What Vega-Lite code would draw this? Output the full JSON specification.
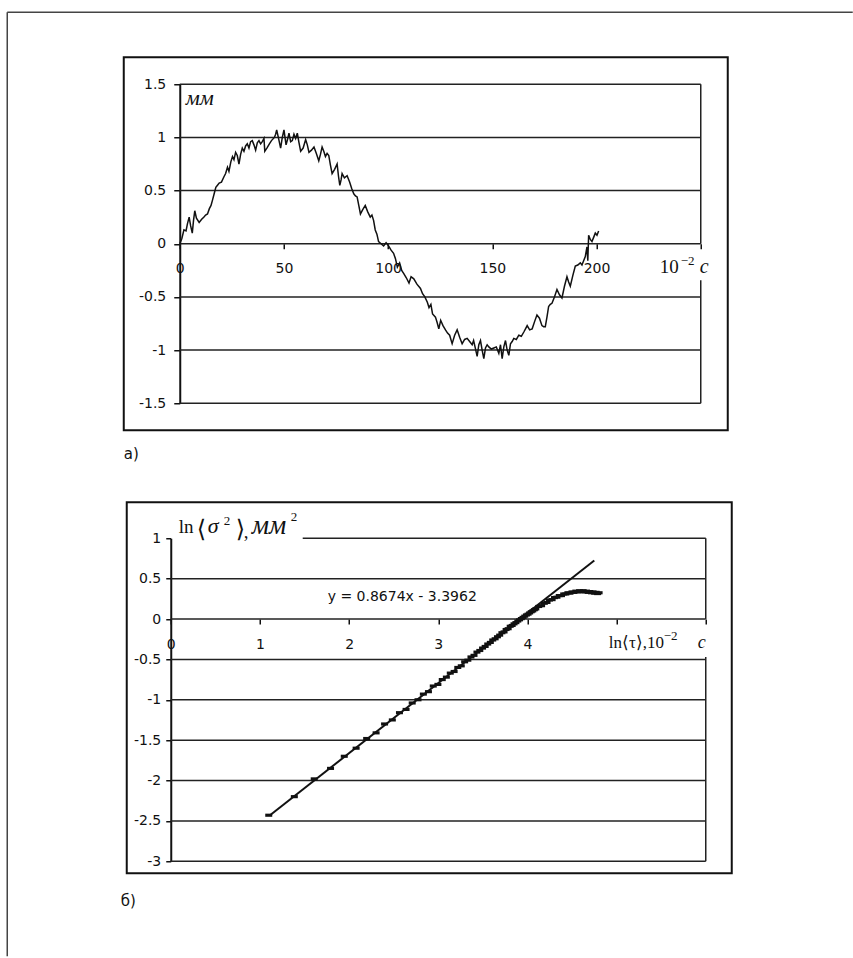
{
  "$schema": "https://vega.github.io/schema/vega-lite/v6.json",
  "padding": {"left": 5.75, "top": 11.25, "right": 0, "bottom": 0},
  "background": "white",
  "bounds": "flush",
  "spacing": 135,
  "config": {
    "view": {"stroke": null},
    "axis": {"labelFont": "DejaVu Sans", "labelFontSize": 14, "labelColor": "#111", "tickColor": "#111", "domainColor": "#111", "labelFlush": false, "labelOverlap": false, "grid": false, "title": null}
  },
  "datasets": {
    "frame": [
      {"x1": -82.79, "x2": 322.94, "y1": 2.1771, "y2": 2.1771},
      {"x1": -82.79, "x2": -82.79, "y1": 2.1771, "y2": -6.7006}
    ],
    "boxA": [{"x1": -26.88, "x2": 262.96, "y1": 1.7539, "y2": -1.7539}],
    "gridA": [
      {"x1": 0, "x2": 250, "y": 1.5},
      {"x1": 0, "x2": 250, "y": 1},
      {"x1": 0, "x2": 250, "y": 0.5},
      {"x1": 0, "x2": 250, "y": 0},
      {"x1": 0, "x2": 250, "y": -0.5},
      {"x1": 0, "x2": 250, "y": -1},
      {"x1": 0, "x2": 250, "y": -1.5}
    ],
    "borderA": [
      {"x": 250, "y1": 0, "y2": 1.5},
      {"x": 250, "y1": -1.5, "y2": -0.343}
    ],
    "sine": [
      {"t": 0, "v": 0.0}, {"t": 1, "v": 0.05}, {"t": 2, "v": 0.13}, {"t": 3, "v": 0.12}, {"t": 3.7, "v": 0.19},
      {"t": 4.5, "v": 0.25}, {"t": 5.2, "v": 0.17}, {"t": 6, "v": 0.1}, {"t": 6.6, "v": 0.22}, {"t": 7.2, "v": 0.31},
      {"t": 8, "v": 0.24}, {"t": 9.3, "v": 0.2}, {"t": 10.5, "v": 0.23}, {"t": 11.5, "v": 0.25}, {"t": 12.4, "v": 0.27},
      {"t": 13.3, "v": 0.28}, {"t": 14.2, "v": 0.33}, {"t": 15, "v": 0.36}, {"t": 15.7, "v": 0.41}, {"t": 16.5, "v": 0.47},
      {"t": 17.3, "v": 0.53}, {"t": 18.1, "v": 0.55}, {"t": 18.9, "v": 0.57}, {"t": 20, "v": 0.58}, {"t": 21.2, "v": 0.63},
      {"t": 22, "v": 0.66}, {"t": 22.9, "v": 0.72}, {"t": 23.6, "v": 0.68}, {"t": 24.5, "v": 0.77}, {"t": 25.3, "v": 0.82},
      {"t": 26, "v": 0.79}, {"t": 26.8, "v": 0.86}, {"t": 27.6, "v": 0.83}, {"t": 28.4, "v": 0.75}, {"t": 29.2, "v": 0.84},
      {"t": 30, "v": 0.9}, {"t": 30.8, "v": 0.87}, {"t": 31.6, "v": 0.92}, {"t": 32.4, "v": 0.94}, {"t": 33.2, "v": 0.9},
      {"t": 34, "v": 0.96}, {"t": 34.8, "v": 0.97}, {"t": 35.6, "v": 0.93}, {"t": 36.4, "v": 0.88}, {"t": 37.2, "v": 0.95},
      {"t": 38, "v": 0.97}, {"t": 38.8, "v": 0.94}, {"t": 39.6, "v": 0.96}, {"t": 40.4, "v": 0.99}, {"t": 40.8, "v": 0.87},
      {"t": 41.8, "v": 0.9}, {"t": 43, "v": 0.94}, {"t": 44, "v": 0.97}, {"t": 45.4, "v": 1.0}, {"t": 46, "v": 1.03},
      {"t": 46.5, "v": 1.07}, {"t": 47.3, "v": 1.0}, {"t": 48.4, "v": 0.9}, {"t": 49.2, "v": 1.0}, {"t": 50, "v": 1.07},
      {"t": 51, "v": 0.93}, {"t": 51.7, "v": 0.98}, {"t": 52.4, "v": 1.04}, {"t": 53.2, "v": 0.96}, {"t": 54, "v": 0.97},
      {"t": 54.8, "v": 1.03}, {"t": 55.6, "v": 0.99}, {"t": 56.4, "v": 1.04}, {"t": 57.2, "v": 0.95}, {"t": 58, "v": 0.87},
      {"t": 59.2, "v": 0.9}, {"t": 60.4, "v": 0.98}, {"t": 61.2, "v": 0.93}, {"t": 62, "v": 0.86}, {"t": 63.2, "v": 0.88},
      {"t": 64.4, "v": 0.91}, {"t": 65.5, "v": 0.85}, {"t": 66.7, "v": 0.78}, {"t": 67.5, "v": 0.84}, {"t": 68.3, "v": 0.91},
      {"t": 69.1, "v": 0.87}, {"t": 69.9, "v": 0.82}, {"t": 70.7, "v": 0.85}, {"t": 71.5, "v": 0.83}, {"t": 72.3, "v": 0.74},
      {"t": 73.1, "v": 0.66}, {"t": 74.3, "v": 0.7}, {"t": 75.5, "v": 0.75}, {"t": 76.2, "v": 0.63}, {"t": 76.8, "v": 0.55},
      {"t": 77.4, "v": 0.6}, {"t": 77.9, "v": 0.66}, {"t": 79, "v": 0.62}, {"t": 80.3, "v": 0.64}, {"t": 81.5, "v": 0.58},
      {"t": 82.5, "v": 0.52}, {"t": 83.5, "v": 0.47}, {"t": 84.3, "v": 0.45}, {"t": 85.1, "v": 0.44}, {"t": 85.9, "v": 0.36},
      {"t": 86.7, "v": 0.28}, {"t": 87.8, "v": 0.32}, {"t": 89, "v": 0.36}, {"t": 90.2, "v": 0.3}, {"t": 91.4, "v": 0.25},
      {"t": 92.2, "v": 0.27}, {"t": 93, "v": 0.22}, {"t": 93.8, "v": 0.13}, {"t": 94.6, "v": 0.09}, {"t": 95.4, "v": 0.02},
      {"t": 96.6, "v": 0.0}, {"t": 97.8, "v": -0.02}, {"t": 99, "v": 0.01}, {"t": 100.2, "v": -0.02}, {"t": 101.4, "v": -0.06},
      {"t": 102.6, "v": -0.09}, {"t": 103.5, "v": -0.14}, {"t": 104.4, "v": -0.22}, {"t": 105.5, "v": -0.18}, {"t": 106.5, "v": -0.25},
      {"t": 107.5, "v": -0.28}, {"t": 108.7, "v": -0.32}, {"t": 110, "v": -0.37}, {"t": 111, "v": -0.31}, {"t": 112.3, "v": -0.33},
      {"t": 113.8, "v": -0.38}, {"t": 115.5, "v": -0.42}, {"t": 116.5, "v": -0.47}, {"t": 117.6, "v": -0.5}, {"t": 118.8, "v": -0.55},
      {"t": 119.6, "v": -0.6}, {"t": 120.5, "v": -0.57}, {"t": 121.3, "v": -0.66}, {"t": 122.7, "v": -0.69}, {"t": 123.5, "v": -0.74},
      {"t": 124.3, "v": -0.8}, {"t": 125.2, "v": -0.72}, {"t": 126.3, "v": -0.77}, {"t": 127.5, "v": -0.81}, {"t": 128.5, "v": -0.84},
      {"t": 129.5, "v": -0.86}, {"t": 130.7, "v": -0.94}, {"t": 131.9, "v": -0.86}, {"t": 133.1, "v": -0.81}, {"t": 134.3, "v": -0.88},
      {"t": 135.5, "v": -0.94}, {"t": 136.7, "v": -0.9}, {"t": 137.9, "v": -0.89}, {"t": 139.1, "v": -0.92}, {"t": 140.3, "v": -0.95},
      {"t": 141, "v": -0.91}, {"t": 141.8, "v": -0.98}, {"t": 142.7, "v": -1.06}, {"t": 143.5, "v": -0.95}, {"t": 144.3, "v": -0.91},
      {"t": 145.1, "v": -1.0}, {"t": 145.9, "v": -1.08}, {"t": 146.7, "v": -0.98}, {"t": 147.5, "v": -0.95}, {"t": 148.3, "v": -0.97},
      {"t": 149.5, "v": -0.99}, {"t": 150.7, "v": -0.98}, {"t": 151.9, "v": -0.97}, {"t": 153.1, "v": -1.03}, {"t": 153.9, "v": -0.95},
      {"t": 154.7, "v": -1.08}, {"t": 155.5, "v": -0.97}, {"t": 156.3, "v": -0.91}, {"t": 157.1, "v": -1.0}, {"t": 157.9, "v": -1.05},
      {"t": 158.7, "v": -0.94}, {"t": 159.5, "v": -0.92}, {"t": 160.3, "v": -0.89}, {"t": 161.5, "v": -0.9}, {"t": 162.7, "v": -0.86},
      {"t": 163.9, "v": -0.87}, {"t": 165.1, "v": -0.83}, {"t": 165.9, "v": -0.8}, {"t": 166.7, "v": -0.77}, {"t": 167.9, "v": -0.81},
      {"t": 169.1, "v": -0.8}, {"t": 170.3, "v": -0.73}, {"t": 171.4, "v": -0.67}, {"t": 172.6, "v": -0.7}, {"t": 173.8, "v": -0.77},
      {"t": 174.6, "v": -0.78}, {"t": 175.4, "v": -0.78}, {"t": 176.2, "v": -0.69}, {"t": 177, "v": -0.59}, {"t": 177.8, "v": -0.57},
      {"t": 178.6, "v": -0.56}, {"t": 179.8, "v": -0.5}, {"t": 181, "v": -0.43}, {"t": 182.2, "v": -0.48}, {"t": 183.4, "v": -0.51},
      {"t": 184.6, "v": -0.4}, {"t": 185.8, "v": -0.31}, {"t": 186.6, "v": -0.36}, {"t": 187.4, "v": -0.4}, {"t": 188.6, "v": -0.3},
      {"t": 189.8, "v": -0.21}, {"t": 191, "v": -0.2}, {"t": 192.2, "v": -0.18}, {"t": 193, "v": -0.2}, {"t": 193.8, "v": -0.16},
      {"t": 194.6, "v": -0.12}, {"t": 195.4, "v": -0.03}, {"t": 195.8, "v": -0.16}, {"t": 196.2, "v": 0.08}, {"t": 197, "v": 0.04},
      {"t": 197.8, "v": 0.02}, {"t": 198.6, "v": 0.06}, {"t": 199.4, "v": 0.1}, {"t": 200.2, "v": 0.08}, {"t": 201, "v": 0.12}
    ],
    "txtA_sans": [{"x": -26.88, "y": -2.0266, "s": "а)"}],
    "txtA_ital": [{"x": 2.87, "y": 1.3025, "s": "мм"}],
    "txtA_c": [{"x": 249.53, "y": -0.2727, "s": "c"}],
    "txtA_serif": [{"x": 230.33, "y": -0.2727, "s": "10"}],
    "txtA_sup": [{"x": 240.4, "y": -0.2022, "s": "−2"}],
    "boxB": [{"x1": -0.4935, "x2": 6.2916, "y1": 1.4458, "y2": -3.1486}],
    "gridB": [
      {"x1": 1.48, "x2": 6, "y": 1},
      {"x1": 0, "x2": 6, "y": 0.5},
      {"x1": 0, "x2": 6, "y": 0},
      {"x1": 0, "x2": 6, "y": -0.5},
      {"x1": 0, "x2": 6, "y": -1},
      {"x1": 0, "x2": 6, "y": -1.5},
      {"x1": 0, "x2": 6, "y": -2},
      {"x1": 0, "x2": 6, "y": -2.5},
      {"x1": 0, "x2": 6, "y": -3}
    ],
    "borderB": [
      {"x": 6, "y1": 0, "y2": 1},
      {"x": 6, "y1": -3, "y2": -0.47}
    ],
    "sig": [
      {"lt": 1.099, "ls": -2.43}, {"lt": 1.386, "ls": -2.2}, {"lt": 1.609, "ls": -1.98}, {"lt": 1.792, "ls": -1.85},
      {"lt": 1.946, "ls": -1.7}, {"lt": 2.079, "ls": -1.6}, {"lt": 2.197, "ls": -1.48}, {"lt": 2.303, "ls": -1.41},
      {"lt": 2.398, "ls": -1.3}, {"lt": 2.485, "ls": -1.25}, {"lt": 2.565, "ls": -1.16}, {"lt": 2.639, "ls": -1.12},
      {"lt": 2.708, "ls": -1.04}, {"lt": 2.773, "ls": -1.0}, {"lt": 2.833, "ls": -0.93}, {"lt": 2.89, "ls": -0.9},
      {"lt": 2.944, "ls": -0.83}, {"lt": 2.996, "ls": -0.81}, {"lt": 3.045, "ls": -0.75}, {"lt": 3.091, "ls": -0.72},
      {"lt": 3.135, "ls": -0.67}, {"lt": 3.178, "ls": -0.65}, {"lt": 3.219, "ls": -0.6}, {"lt": 3.258, "ls": -0.58},
      {"lt": 3.296, "ls": -0.53}, {"lt": 3.332, "ls": -0.51}, {"lt": 3.367, "ls": -0.47}, {"lt": 3.401, "ls": -0.45},
      {"lt": 3.434, "ls": -0.41}, {"lt": 3.466, "ls": -0.39}, {"lt": 3.497, "ls": -0.36}, {"lt": 3.526, "ls": -0.34},
      {"lt": 3.555, "ls": -0.31}, {"lt": 3.584, "ls": -0.29}, {"lt": 3.611, "ls": -0.26}, {"lt": 3.638, "ls": -0.245},
      {"lt": 3.664, "ls": -0.22}, {"lt": 3.689, "ls": -0.2}, {"lt": 3.714, "ls": -0.17}, {"lt": 3.738, "ls": -0.16},
      {"lt": 3.761, "ls": -0.13}, {"lt": 3.784, "ls": -0.12}, {"lt": 3.807, "ls": -0.09}, {"lt": 3.829, "ls": -0.08},
      {"lt": 3.85, "ls": -0.06}, {"lt": 3.871, "ls": -0.045}, {"lt": 3.892, "ls": -0.025}, {"lt": 3.912, "ls": -0.01},
      {"lt": 3.932, "ls": 0.005}, {"lt": 3.951, "ls": 0.02}, {"lt": 3.97, "ls": 0.035}, {"lt": 3.989, "ls": 0.05},
      {"lt": 4.007, "ls": 0.06}, {"lt": 4.025, "ls": 0.075}, {"lt": 4.043, "ls": 0.09}, {"lt": 4.06, "ls": 0.1},
      {"lt": 4.078, "ls": 0.115}, {"lt": 4.094, "ls": 0.125}, {"lt": 4.127, "ls": 0.155}, {"lt": 4.159, "ls": 0.165},
      {"lt": 4.19, "ls": 0.195}, {"lt": 4.22, "ls": 0.205}, {"lt": 4.248, "ls": 0.235}, {"lt": 4.277, "ls": 0.24},
      {"lt": 4.304, "ls": 0.265}, {"lt": 4.331, "ls": 0.27}, {"lt": 4.357, "ls": 0.29}, {"lt": 4.382, "ls": 0.29},
      {"lt": 4.407, "ls": 0.31}, {"lt": 4.431, "ls": 0.31}, {"lt": 4.454, "ls": 0.325}, {"lt": 4.477, "ls": 0.32},
      {"lt": 4.5, "ls": 0.335}, {"lt": 4.522, "ls": 0.33}, {"lt": 4.543, "ls": 0.345}, {"lt": 4.564, "ls": 0.335},
      {"lt": 4.585, "ls": 0.35}, {"lt": 4.605, "ls": 0.34}, {"lt": 4.625, "ls": 0.35}, {"lt": 4.644, "ls": 0.335},
      {"lt": 4.663, "ls": 0.345}, {"lt": 4.682, "ls": 0.33}, {"lt": 4.7, "ls": 0.34}, {"lt": 4.718, "ls": 0.325},
      {"lt": 4.736, "ls": 0.335}, {"lt": 4.754, "ls": 0.32}, {"lt": 4.771, "ls": 0.33}, {"lt": 4.787, "ls": 0.315},
      {"lt": 4.804, "ls": 0.325}
    ],
    "trend": [{"lt": 1.12, "ls": -2.4247}, {"lt": 4.75, "ls": 0.724}],
    "txtB_sans": [{"x": -0.5607, "y": -3.5573, "s": "б)"}],
    "txtB_eq": [{"x": 2.596, "y": 0.269, "s": "y = 0.8674x - 3.3962"}],
    "txtB_ln": [{"x": 0.0897, "y": 1.0619, "s": "ln"}, {"x": 0.8185, "y": 1.0, "s": ","}],
    "txtB_br": [{"x": 0.2916, "y": 1.0124, "s": "⟨"}, {"x": 0.729, "y": 1.0124, "s": "⟩"}],
    "txtB_sigma": [{"x": 0.415, "y": 1.0619, "s": "σ"}],
    "txtB_mm": [{"x": 0.9084, "y": 1.0495, "s": "мм"}],
    "txtB_sup": [{"x": 0.5944, "y": 1.161, "s": "2"}, {"x": 1.3458, "y": 1.2105, "s": "2"}, {"x": 5.529, "y": -0.2632, "s": "−2"}],
    "txtB_tau": [{"x": 4.912, "y": -0.3585, "s": "ln⟨τ⟩,10"}],
    "txtB_c": [{"x": 5.91, "y": -0.3585, "s": "c"}]
  },
  "vconcat": [
    {
      "width": 530,
      "height": 319,
      "layer": [
        {
          "data": {"name": "gridA"},
          "mark": {"type": "rule", "color": "#222", "strokeWidth": 1.5},
          "encoding": {
            "x": {"field": "x1", "type": "quantitative", "title": null, "scale": {"domain": [-4.33, 250], "nice": false, "zero": false},
              "axis": {"orient": "bottom", "offset": -159.5, "values": [0, 50, 100, 150, 200, 250], "labelExpr": "datum.value == 250 ? '' : '' + datum.value", "domain": false, "ticks": true, "tickSize": 5, "tickWidth": 1.5, "labelPadding": 13, "title": null}},
            "x2": {"field": "x2"},
            "y": {"field": "y", "type": "quantitative", "title": null, "scale": {"domain": [-1.5, 1.5], "nice": false, "zero": false},
              "axis": {"orient": "left", "offset": -9, "values": [-1.5, -1, -0.5, 0, 0.5, 1, 1.5], "labelExpr": "'' + datum.value", "domain": true, "domainWidth": 2, "tickSize": 6, "tickWidth": 1.5, "labelPadding": 8, "title": null}}
          }
        },
        {
          "data": {"name": "borderA"},
          "mark": {"type": "rule", "color": "#222", "strokeWidth": 1.5},
          "encoding": {
            "x": {"field": "x", "type": "quantitative", "title": null, "scale": {"domain": [-4.33, 250], "nice": false, "zero": false}},
            "y": {"field": "y1", "type": "quantitative", "title": null, "scale": {"domain": [-1.5, 1.5], "nice": false, "zero": false}},
            "y2": {"field": "y2"}
          }
        },
        {
          "data": {"name": "frame"},
          "mark": {"type": "rule", "color": "#444", "strokeWidth": 1.5},
          "encoding": {
            "x": {"field": "x1", "type": "quantitative", "title": null, "scale": {"domain": [-4.33, 250], "nice": false, "zero": false}},
            "x2": {"field": "x2"},
            "y": {"field": "y1", "type": "quantitative", "title": null, "scale": {"domain": [-1.5, 1.5], "nice": false, "zero": false}},
            "y2": {"field": "y2"}
          }
        },
        {
          "data": {"name": "boxA"},
          "mark": {"type": "rect", "filled": false, "color": "#111", "strokeWidth": 2},
          "encoding": {
            "x": {"field": "x1", "type": "quantitative", "title": null, "scale": {"domain": [-4.33, 250], "nice": false, "zero": false}},
            "x2": {"field": "x2"},
            "y": {"field": "y1", "type": "quantitative", "title": null, "scale": {"domain": [-1.5, 1.5], "nice": false, "zero": false}},
            "y2": {"field": "y2"}
          }
        },
        {
          "data": {"name": "sine"},
          "mark": {"type": "line", "color": "#111", "strokeWidth": 1.5, "interpolate": "linear"},
          "encoding": {
            "x": {"field": "t", "type": "quantitative", "title": null, "scale": {"domain": [-4.33, 250], "nice": false, "zero": false}},
            "y": {"field": "v", "type": "quantitative", "title": null, "scale": {"domain": [-1.5, 1.5], "nice": false, "zero": false}}
          }
        },
        {
          "data": {"name": "txtA_sans"},
          "mark": {"type": "text", "font": "DejaVu Sans", "fontSize": 15, "align": "left", "baseline": "alphabetic", "color": "#111"},
          "encoding": {
            "x": {"field": "x", "type": "quantitative", "title": null, "scale": {"domain": [-4.33, 250], "nice": false, "zero": false}},
            "y": {"field": "y", "type": "quantitative", "title": null, "scale": {"domain": [-1.5, 1.5], "nice": false, "zero": false}},
            "text": {"field": "s"}
          }
        },
        {
          "data": {"name": "txtA_ital"},
          "mark": {"type": "text", "font": "Liberation Serif", "fontStyle": "italic", "fontSize": 22, "align": "left", "baseline": "alphabetic", "color": "#111"},
          "encoding": {
            "x": {"field": "x", "type": "quantitative", "title": null, "scale": {"domain": [-4.33, 250], "nice": false, "zero": false}},
            "y": {"field": "y", "type": "quantitative", "title": null, "scale": {"domain": [-1.5, 1.5], "nice": false, "zero": false}},
            "text": {"field": "s"}
          }
        },
        {
          "data": {"name": "txtA_c"},
          "mark": {"type": "text", "font": "Liberation Serif", "fontStyle": "italic", "fontSize": 20, "align": "left", "baseline": "alphabetic", "color": "#111"},
          "encoding": {
            "x": {"field": "x", "type": "quantitative", "title": null, "scale": {"domain": [-4.33, 250], "nice": false, "zero": false}},
            "y": {"field": "y", "type": "quantitative", "title": null, "scale": {"domain": [-1.5, 1.5], "nice": false, "zero": false}},
            "text": {"field": "s"}
          }
        },
        {
          "data": {"name": "txtA_serif"},
          "mark": {"type": "text", "font": "Liberation Serif", "fontSize": 19, "align": "left", "baseline": "alphabetic", "color": "#111"},
          "encoding": {
            "x": {"field": "x", "type": "quantitative", "title": null, "scale": {"domain": [-4.33, 250], "nice": false, "zero": false}},
            "y": {"field": "y", "type": "quantitative", "title": null, "scale": {"domain": [-1.5, 1.5], "nice": false, "zero": false}},
            "text": {"field": "s"}
          }
        },
        {
          "data": {"name": "txtA_sup"},
          "mark": {"type": "text", "font": "Liberation Serif", "fontSize": 13, "align": "left", "baseline": "alphabetic", "color": "#111"},
          "encoding": {
            "x": {"field": "x", "type": "quantitative", "title": null, "scale": {"domain": [-4.33, 250], "nice": false, "zero": false}},
            "y": {"field": "y", "type": "quantitative", "title": null, "scale": {"domain": [-1.5, 1.5], "nice": false, "zero": false}},
            "text": {"field": "s"}
          }
        }
      ]
    },
    {
      "width": 535,
      "height": 323,
      "layer": [
        {
          "data": {"name": "gridB"},
          "mark": {"type": "rule", "color": "#222", "strokeWidth": 1.5},
          "encoding": {
            "x": {"field": "x1", "type": "quantitative", "title": null, "scale": {"domain": [0, 6], "nice": false, "zero": false},
              "axis": {"orient": "bottom", "offset": -242.25, "values": [0, 1, 2, 3, 4, 5, 6], "labelExpr": "datum.value >= 5 ? '' : '' + datum.value", "domain": false, "ticks": true, "tickSize": 5, "tickWidth": 1.5, "labelPadding": 13, "title": null}},
            "x2": {"field": "x2"},
            "y": {"field": "y", "type": "quantitative", "title": null, "scale": {"domain": [-3, 1], "nice": false, "zero": false},
              "axis": {"orient": "left", "values": [-3, -2.5, -2, -1.5, -1, -0.5, 0, 0.5, 1], "labelExpr": "'' + datum.value", "domain": true, "domainWidth": 2, "tickSize": 5, "tickWidth": 1.5, "labelPadding": 5, "title": null}}
          }
        },
        {
          "data": {"name": "borderB"},
          "mark": {"type": "rule", "color": "#222", "strokeWidth": 1.5},
          "encoding": {
            "x": {"field": "x", "type": "quantitative", "title": null, "scale": {"domain": [0, 6], "nice": false, "zero": false}},
            "y": {"field": "y1", "type": "quantitative", "title": null, "scale": {"domain": [-3, 1], "nice": false, "zero": false}},
            "y2": {"field": "y2"}
          }
        },
        {
          "data": {"name": "boxB"},
          "mark": {"type": "rect", "filled": false, "color": "#111", "strokeWidth": 2},
          "encoding": {
            "x": {"field": "x1", "type": "quantitative", "title": null, "scale": {"domain": [0, 6], "nice": false, "zero": false}},
            "x2": {"field": "x2"},
            "y": {"field": "y1", "type": "quantitative", "title": null, "scale": {"domain": [-3, 1], "nice": false, "zero": false}},
            "y2": {"field": "y2"}
          }
        },
        {
          "data": {"name": "sig"},
          "mark": {"type": "point", "shape": "M-1,-0.45L1,-0.45L1,0.45L-1,0.45Z", "filled": true, "size": 49, "color": "#111", "opacity": 1},
          "encoding": {
            "x": {"field": "lt", "type": "quantitative", "title": null, "scale": {"domain": [0, 6], "nice": false, "zero": false}},
            "y": {"field": "ls", "type": "quantitative", "title": null, "scale": {"domain": [-3, 1], "nice": false, "zero": false}}
          }
        },
        {
          "data": {"name": "trend"},
          "mark": {"type": "line", "color": "#111", "strokeWidth": 2},
          "encoding": {
            "x": {"field": "lt", "type": "quantitative", "title": null, "scale": {"domain": [0, 6], "nice": false, "zero": false}},
            "y": {"field": "ls", "type": "quantitative", "title": null, "scale": {"domain": [-3, 1], "nice": false, "zero": false}}
          }
        },
        {
          "data": {"name": "txtB_sans"},
          "mark": {"type": "text", "font": "DejaVu Sans", "fontSize": 15, "align": "left", "baseline": "alphabetic", "color": "#111"},
          "encoding": {
            "x": {"field": "x", "type": "quantitative", "title": null, "scale": {"domain": [0, 6], "nice": false, "zero": false}},
            "y": {"field": "y", "type": "quantitative", "title": null, "scale": {"domain": [-3, 1], "nice": false, "zero": false}},
            "text": {"field": "s"}
          }
        },
        {
          "data": {"name": "txtB_eq"},
          "mark": {"type": "text", "font": "DejaVu Sans", "fontSize": 14, "align": "center", "baseline": "middle", "color": "#111"},
          "encoding": {
            "x": {"field": "x", "type": "quantitative", "title": null, "scale": {"domain": [0, 6], "nice": false, "zero": false}},
            "y": {"field": "y", "type": "quantitative", "title": null, "scale": {"domain": [-3, 1], "nice": false, "zero": false}},
            "text": {"field": "s"}
          }
        },
        {
          "data": {"name": "txtB_ln"},
          "mark": {"type": "text", "font": "Liberation Serif", "fontSize": 19, "align": "left", "baseline": "alphabetic", "color": "#111"},
          "encoding": {
            "x": {"field": "x", "type": "quantitative", "title": null, "scale": {"domain": [0, 6], "nice": false, "zero": false}},
            "y": {"field": "y", "type": "quantitative", "title": null, "scale": {"domain": [-3, 1], "nice": false, "zero": false}},
            "text": {"field": "s"}
          }
        },
        {
          "data": {"name": "txtB_br"},
          "mark": {"type": "text", "font": "DejaVu Serif", "fontSize": 24, "align": "left", "baseline": "alphabetic", "color": "#111"},
          "encoding": {
            "x": {"field": "x", "type": "quantitative", "title": null, "scale": {"domain": [0, 6], "nice": false, "zero": false}},
            "y": {"field": "y", "type": "quantitative", "title": null, "scale": {"domain": [-3, 1], "nice": false, "zero": false}},
            "text": {"field": "s"}
          }
        },
        {
          "data": {"name": "txtB_sigma"},
          "mark": {"type": "text", "font": "Liberation Serif", "fontStyle": "italic", "fontSize": 22, "align": "left", "baseline": "alphabetic", "color": "#111"},
          "encoding": {
            "x": {"field": "x", "type": "quantitative", "title": null, "scale": {"domain": [0, 6], "nice": false, "zero": false}},
            "y": {"field": "y", "type": "quantitative", "title": null, "scale": {"domain": [-3, 1], "nice": false, "zero": false}},
            "text": {"field": "s"}
          }
        },
        {
          "data": {"name": "txtB_mm"},
          "mark": {"type": "text", "font": "Liberation Serif", "fontStyle": "italic", "fontSize": 27, "align": "left", "baseline": "alphabetic", "color": "#111"},
          "encoding": {
            "x": {"field": "x", "type": "quantitative", "title": null, "scale": {"domain": [0, 6], "nice": false, "zero": false}},
            "y": {"field": "y", "type": "quantitative", "title": null, "scale": {"domain": [-3, 1], "nice": false, "zero": false}},
            "text": {"field": "s"}
          }
        },
        {
          "data": {"name": "txtB_sup"},
          "mark": {"type": "text", "font": "Liberation Serif", "fontSize": 13, "align": "left", "baseline": "alphabetic", "color": "#111"},
          "encoding": {
            "x": {"field": "x", "type": "quantitative", "title": null, "scale": {"domain": [0, 6], "nice": false, "zero": false}},
            "y": {"field": "y", "type": "quantitative", "title": null, "scale": {"domain": [-3, 1], "nice": false, "zero": false}},
            "text": {"field": "s"}
          }
        },
        {
          "data": {"name": "txtB_tau"},
          "mark": {"type": "text", "font": "Liberation Serif", "fontSize": 17, "align": "left", "baseline": "alphabetic", "color": "#111"},
          "encoding": {
            "x": {"field": "x", "type": "quantitative", "title": null, "scale": {"domain": [0, 6], "nice": false, "zero": false}},
            "y": {"field": "y", "type": "quantitative", "title": null, "scale": {"domain": [-3, 1], "nice": false, "zero": false}},
            "text": {"field": "s"}
          }
        },
        {
          "data": {"name": "txtB_c"},
          "mark": {"type": "text", "font": "Liberation Serif", "fontStyle": "italic", "fontSize": 18, "align": "left", "baseline": "alphabetic", "color": "#111"},
          "encoding": {
            "x": {"field": "x", "type": "quantitative", "title": null, "scale": {"domain": [0, 6], "nice": false, "zero": false}},
            "y": {"field": "y", "type": "quantitative", "title": null, "scale": {"domain": [-3, 1], "nice": false, "zero": false}},
            "text": {"field": "s"}
          }
        }
      ]
    }
  ]
}
